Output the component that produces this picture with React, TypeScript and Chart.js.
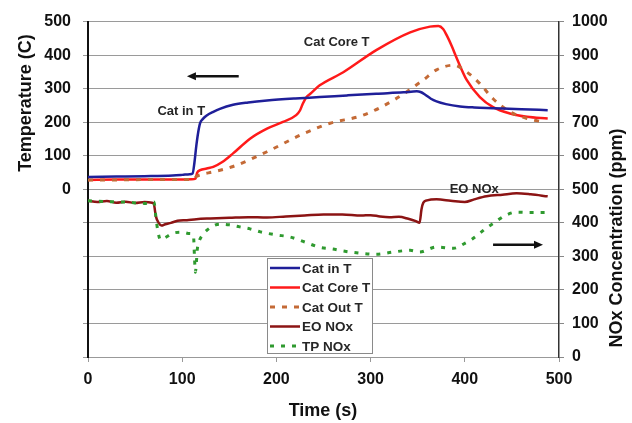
import { useEffect, useRef } from "react";
import { Chart, registerables } from "chart.js";

Chart.register(...registerables);

const FONT = '"Liberation Sans", Arial, sans-serif';

// Catalyst temperatures (C), left axis
const catInTime = [0, 30, 60, 90, 100, 108, 111, 113, 115, 117, 119, 122, 126, 133, 140, 154, 170, 190, 220, 246, 275, 306, 335, 349, 353, 358, 364, 370, 380, 395, 410, 430, 460, 488];
const catInTemp = [37, 38, 39, 41, 43, 45, 47, 80, 130, 170, 197, 210, 220, 231, 240, 252, 259, 265, 271, 275, 280, 285, 289, 292, 290, 282, 270, 262, 254, 247, 244, 242, 239, 236];

const catCoreTime = [0, 30, 60, 90, 110, 114, 116, 119, 126, 133, 143, 154, 172, 190, 207, 221, 225, 228, 232, 236, 246, 271, 306, 342, 363, 372, 377, 381, 386, 391, 402, 416, 430, 448, 466, 488];
const catCoreTemp = [28, 29, 29, 29, 30, 32, 50, 57, 62, 67, 82, 107, 151, 181, 201, 221, 235, 255, 275, 285, 310, 349, 415, 468, 485, 487, 478, 458, 428, 394, 326, 275, 245, 226, 216, 211];

const catOutTime = [0, 30, 60, 90, 112, 115, 120, 133, 154, 190, 225, 246, 257, 292, 324, 356, 370, 388, 402, 416, 430, 448, 466, 485];
const catOutTemp = [28, 28, 29, 29, 30, 38, 44, 52, 68, 112, 161, 186, 197, 221, 265, 326, 356, 370, 350, 315, 270, 231, 211, 200];

// NOx concentrations (ppm), right axis
const eoNoxTime = [0, 10, 20, 30, 40, 50, 60, 68, 70, 72, 75, 78, 82, 88, 95, 105, 115, 130, 150, 170, 190, 210, 230, 250, 270, 290, 300, 310, 320, 330, 340, 348, 352, 354, 356, 360, 370, 385, 400, 410, 423, 440, 455, 470, 488];
const eoNoxPpm = [466, 462, 465, 460, 463, 459, 462, 460, 455, 420, 400, 392, 396, 400, 406, 408, 411, 413, 415, 417, 416, 419, 422, 425, 425, 422, 423, 419, 417, 418, 412, 405, 400, 440, 460, 467, 470, 466, 462, 470, 479, 484, 488, 485, 479];

const tpNoxTime = [0, 20, 40, 60, 70, 72, 74, 77, 82, 90, 100, 108, 112, 113, 114, 115, 116, 118, 122, 129, 140, 150, 161, 172, 183, 200, 214, 230, 246, 260, 271, 290, 306, 324, 342, 352, 370, 388, 400, 408, 416, 423, 430, 443, 455, 469, 488];
const tpNoxPpm = [466, 463, 462, 458, 462, 420, 378, 350, 356, 369, 372, 368, 362, 300, 253, 280, 320, 345, 365, 384, 396, 394, 388, 382, 373, 364, 358, 343, 327, 322, 316, 309, 306, 313, 318, 313, 328, 324, 339, 352, 369, 385, 398, 422, 432, 431, 431];

const seriesNames = ["Cat in T", "Cat Core T", "Cat Out T", "EO NOx", "TP NOx"];
const seriesColors = ["#1f1f99", "#ff1a1a", "#c46a36", "#8c1414", "#2f9a2f"];
const seriesWidths = [2.5, 2.5, 3, 2.5, 3];
const seriesDashes: number[][] = [[], [], [5, 7], [], [4, 7]];

// Callout labels: text, time, value, axis
const calloutText = ["Cat in T", "Cat Core T", "EO NOx"];
const calloutTime = [99, 264, 410];
const calloutValue = [232, 437, 500];
const calloutAxis = ["yT", "yT", "yN"];

// Axis-direction arrows: fromTime, toTime, value, axis
const arrowFrom = [160, 430];
const arrowTo = [105, 483];
const arrowValue = [337, 335];
const arrowAxis = ["yT", "yN"];

const pairs = (xs: number[], ys: number[]) => xs.map((x, i) => ({ x, y: ys[i] }));

const drawArrow = (ctx: CanvasRenderingContext2D, x0: number, x1: number, y: number) => {
  const dir = Math.sign(x1 - x0);
  const head = 9;
  ctx.strokeStyle = "#111";
  ctx.fillStyle = "#111";
  ctx.lineWidth = 2.5;
  ctx.beginPath();
  ctx.moveTo(x0, y);
  ctx.lineTo(x1 - dir * head, y);
  ctx.stroke();
  ctx.beginPath();
  ctx.moveTo(x1, y);
  ctx.lineTo(x1 - dir * head, y - 4);
  ctx.lineTo(x1 - dir * head, y + 4);
  ctx.closePath();
  ctx.fill();
};

const overlays = {
  id: "overlays",
  afterDatasetsDraw(chart: any) {
    const { ctx, scales } = chart;
    const x = scales.x;
    ctx.save();

    // callout labels
    ctx.font = `bold 13px ${FONT}`;
    ctx.fillStyle = "#262626";
    ctx.textAlign = "center";
    ctx.textBaseline = "middle";
    calloutText.forEach((t, i) => {
      const ax = scales[calloutAxis[i]];
      ctx.fillText(t, x.getPixelForValue(calloutTime[i]), ax.getPixelForValue(calloutValue[i]));
    });

    // arrows
    arrowFrom.forEach((f, i) => {
      const ax = scales[arrowAxis[i]];
      drawArrow(ctx, x.getPixelForValue(f), x.getPixelForValue(arrowTo[i]), ax.getPixelForValue(arrowValue[i]));
    });

    // legend box
    const lx = 267, ly = 258, lw = 105, lh = 95, rowH = 19.5;
    ctx.fillStyle = "#fff";
    ctx.fillRect(lx, ly, lw, lh);
    ctx.strokeStyle = "#8a8a8a";
    ctx.lineWidth = 1;
    ctx.strokeRect(lx + 0.5, ly + 0.5, lw, lh);
    ctx.font = `bold 13.5px ${FONT}`;
    ctx.textAlign = "left";
    seriesNames.forEach((name, i) => {
      const yy = ly + 10 + i * rowH;
      ctx.strokeStyle = seriesColors[i];
      ctx.lineWidth = seriesWidths[i];
      ctx.setLineDash(seriesDashes[i]);
      ctx.beginPath();
      ctx.moveTo(lx + 3, yy);
      ctx.lineTo(lx + 33, yy);
      ctx.stroke();
      ctx.setLineDash([]);
      ctx.fillStyle = "#262626";
      ctx.fillText(name, lx + 35, yy + 1);
    });

    // axis titles
    ctx.fillStyle = "#111";
    ctx.font = `bold 18px ${FONT}`;
    ctx.textAlign = "center";
    ctx.fillText("Time (s)", 323, 411);
    ctx.save();
    ctx.translate(26, 103);
    ctx.rotate(-Math.PI / 2);
    ctx.fillText("Temperature (C)", 0, 0);
    ctx.restore();
    ctx.save();
    ctx.translate(617, 238);
    ctx.rotate(-Math.PI / 2);
    ctx.fillText("NOx Concentration (ppm)", 0, 0);
    ctx.restore();

    ctx.restore();
  },
};

export default function App() {
  const ref = useRef<HTMLCanvasElement | null>(null);

  useEffect(() => {
    if (!ref.current) return;
    const tickFont = { family: FONT, size: 16, weight: "bold" as const };
    const chart = new Chart(ref.current, {
      type: "line",
      data: {
        datasets: [
          { label: seriesNames[0], data: pairs(catInTime, catInTemp), yAxisID: "yT", order: 1 },
          { label: seriesNames[1], data: pairs(catCoreTime, catCoreTemp), yAxisID: "yT", order: 3 },
          { label: seriesNames[2], data: pairs(catOutTime, catOutTemp), yAxisID: "yT", order: 2 },
          { label: seriesNames[3], data: pairs(eoNoxTime, eoNoxPpm), yAxisID: "yN", order: 5 },
          { label: seriesNames[4], data: pairs(tpNoxTime, tpNoxPpm), yAxisID: "yN", order: 4 },
        ].map((d, i) => ({
          ...d,
          borderColor: seriesColors[i],
          backgroundColor: seriesColors[i],
          borderWidth: seriesWidths[i],
          borderDash: seriesDashes[i],
          pointRadius: 0,
          fill: false,
          cubicInterpolationMode: "monotone" as const,
        })),
      },
      options: {
        responsive: false,
        animation: false,
        events: [],
        layout: { padding: { top: 21, left: 0, right: 0, bottom: 0 } },
        plugins: { legend: { display: false }, tooltip: { enabled: false } },
        scales: {
          x: {
            type: "linear",
            min: 0,
            max: 500,
            afterFit: (s: any) => { s.height = 66; },
            ticks: { stepSize: 100, color: "#111", font: tickFont, padding: 8, callback: (v: any) => String(v) },
            grid: { drawOnChartArea: false, drawTicks: true, tickLength: 5, color: "#999" },
            border: { color: "#999", width: 1 },
          },
          yT: {
            type: "linear",
            position: "left",
            min: -500,
            max: 500,
            afterFit: (s: any) => { s.width = 88; },
            ticks: {
              stepSize: 100,
              color: "#111",
              font: tickFont,
              padding: 12,
              callback: (v: any) => (Number(v) >= 0 ? String(v) : ""),
            },
            grid: { color: "#9a9a9a", lineWidth: 1, tickLength: 5 },
            border: { color: "#111", width: 2 },
          },
          yN: {
            type: "linear",
            position: "right",
            min: 0,
            max: 1000,
            afterFit: (s: any) => { s.width = 73; },
            ticks: { stepSize: 100, color: "#111", font: tickFont, padding: 8, callback: (v: any) => String(v) },
            grid: { drawOnChartArea: false, tickLength: 5, color: "#888" },
            border: { color: "#333", width: 1.5 },
          },
        },
      },
      plugins: [overlays],
    });
    return () => chart.destroy();
  }, []);

  return (
    <div style={{ position: "fixed", left: 0, top: 0, width: 632, height: 423, background: "#fff" }}>
      <canvas ref={ref} width={632} height={423} />
    </div>
  );
}
